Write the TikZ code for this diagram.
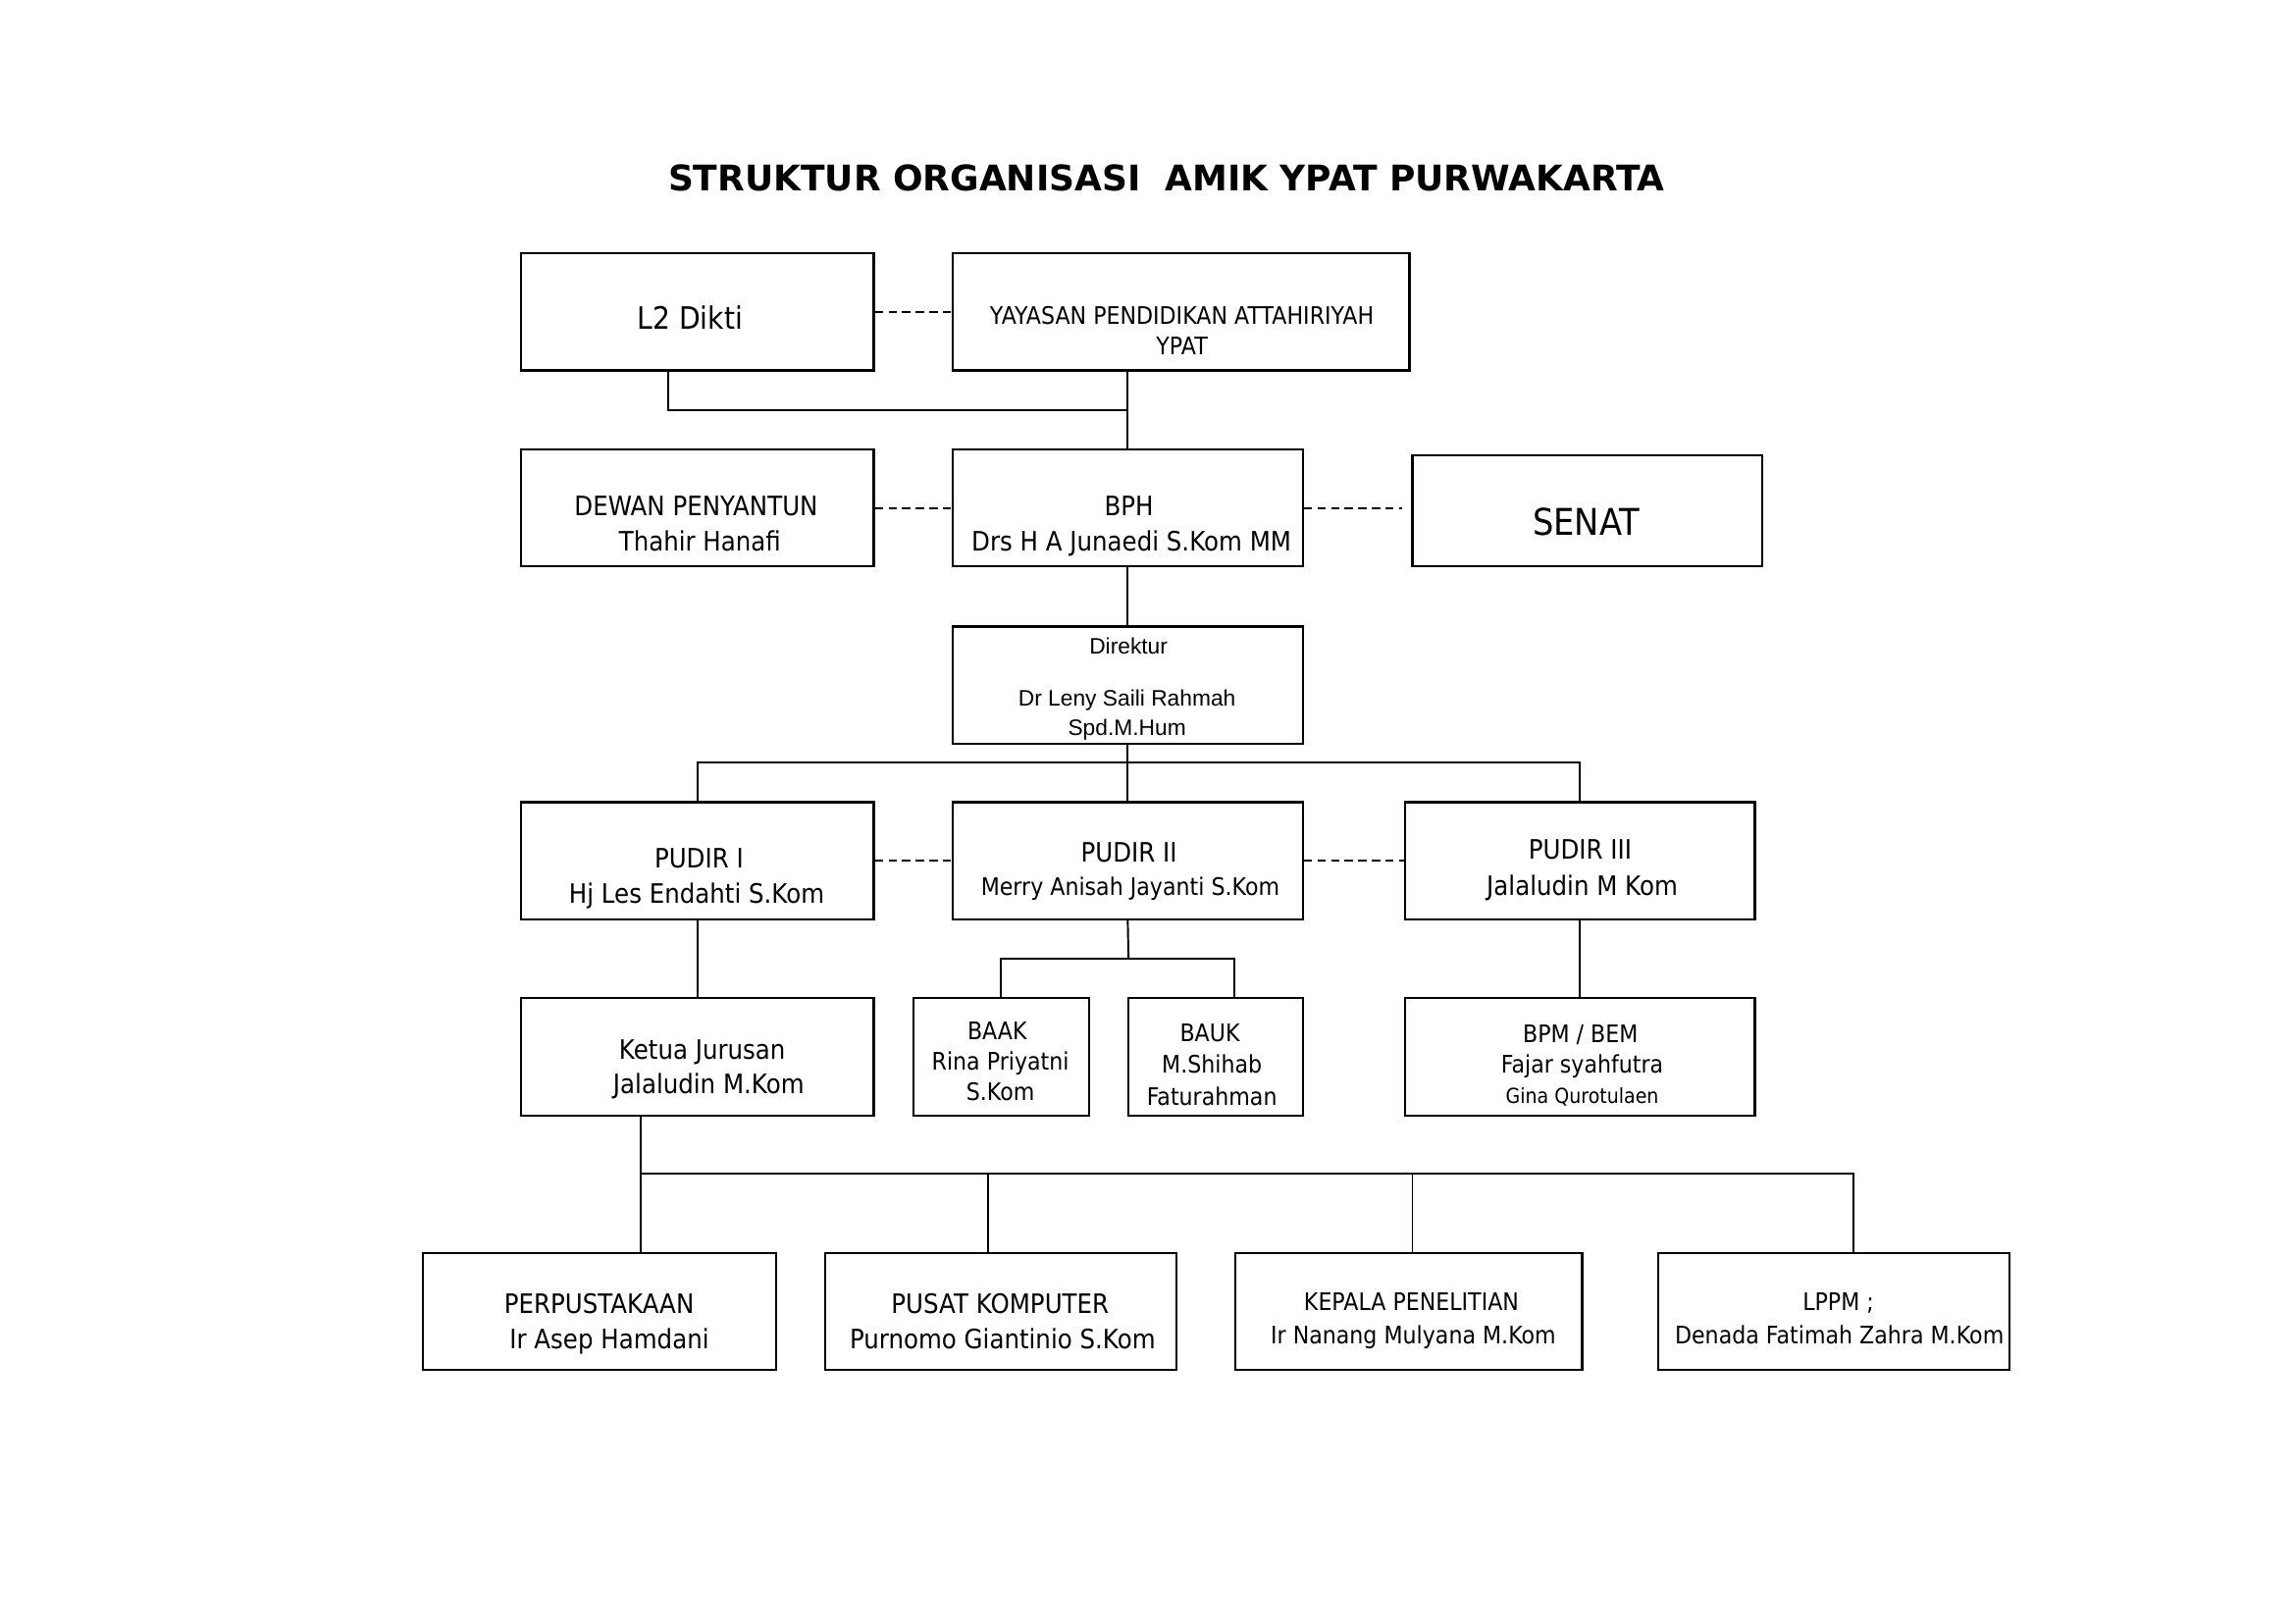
\documentclass[tikz,border=0pt]{standalone}
\usepackage{fontspec}
\setmainfont[FakeStretch=0.9]{DejaVu Sans}
\newfontfamily\titlef{DejaVu Sans}
\newfontfamily\arialf{Liberation Sans}
\usetikzlibrary{fit}
\begin{document}
\begin{tikzpicture}[x=0.537pt,y=-0.537pt,
  box/.style={draw,line width=0.8pt,inner sep=0pt},
  conn/.style={line width=0.7pt},
  dashline/.style={line width=0.7pt,dash pattern=on 3pt off 2pt},
  tx/.style={inner sep=0pt,anchor=mid,yshift=-1.4pt},
  tten/.style={tx,font=\fontsize{9.8}{11}\selectfont},
  tnine/.style={tx,font=\fontsize{8.85}{10}\selectfont},
  teight/.style={tx,font=\fontsize{7.6}{9}\selectfont},
  tarial/.style={tx,font=\arialf\fontsize{8.2}{9.5}\selectfont},
  tbig/.style={tx,font=\fontsize{11.3}{13}\selectfont},
  thuge/.style={tx,font=\fontsize{13.5}{15}\selectfont},
  ttitle/.style={tx,font=\titlef\bfseries\fontsize{12.95}{14}\selectfont}]
\fill[white] (0,0) rectangle (1568,1108.8);
\useasboundingbox (0,0) rectangle (1568,1108.8);

% title
\node[ttitle] (title) at (797,123) {STRUKTUR ORGANISASI\ \ AMIK YPAT PURWAKARTA};

% boxes
\node[box,fit={(356,173)(597,253)}] (l2) {};
\node[box,fit={(651,173)(963,253)}] (ya) {};
\node[box,fit={(356,307)(597,387)}] (dew) {};
\node[box,fit={(651,307)(890,387)}] (bph) {};
\node[box,fit={(965,311)(1204,387)}] (senat) {};
\node[box,fit={(651,428)(890,508)}] (dir) {};
\node[box,fit={(356,548)(597,628)}] (p1) {};
\node[box,fit={(651,548)(890,628)}] (p2) {};
\node[box,fit={(960,548)(1199,628)}] (p3) {};
\node[box,fit={(356,682)(597,762)}] (ket) {};
\node[box,fit={(624,682)(744,762)}] (baak) {};
\node[box,fit={(771,682)(890,762)}] (bauk) {};
\node[box,fit={(960,682)(1199,762)}] (bpm) {};
\node[box,fit={(289,856)(530,936)}] (perp) {};
\node[box,fit={(564,856)(804,936)}] (pusat) {};
\node[box,fit={(844,856)(1081,936)}] (kep) {};
\node[box,fit={(1133,856)(1373,936)}] (lppm) {};

% texts
\node[tbig] (l2t) at (471.5,217) {L2 Dikti};
\node[tnine] (yat1) at (807.5,214) {YAYASAN PENDIDIKAN ATTAHIRIYAH};
\node[tnine] (yat2) at (807.5,234.5) {YPAT};
\node[tten] (dewt1) at (475.6,344.5) {DEWAN PENYANTUN};
\node[tten] (dewt2) at (478.2,368.5) {Thahir Hanafi};
\node[tten] (bpht1) at (771.3,344.5) {BPH};
\node[tten] (bpht2) at (773,369) {Drs H A Junaedi S.Kom MM};
\node[thuge] (senatt) at (1083.7,358) {SENAT};
\node[tarial] (dirt1) at (771,439) {Direktur};
\node[tarial] (dirt2) at (770,474.5) {Dr Leny Saili Rahmah};
\node[tarial] (dirt3) at (770,495) {Spd.M.Hum};
\node[tten] (p1t1) at (477.6,585.5) {PUDIR I};
\node[tten] (p1t2) at (476,609.6) {Hj Les Endahti S.Kom};
\node[tten] (p2t1) at (771.3,581) {PUDIR II};
\node[tnine] (p2t2) at (772.2,603.8) {Merry Anisah Jayanti S.Kom};
\node[tten] (p3t1) at (1079.6,579.4) {PUDIR III};
\node[tten] (p3t2) at (1081,603.8) {Jalaludin M Kom};
\node[tten] (kett1) at (479.8,715.7) {Ketua Jurusan};
\node[tten] (kett2) at (484.2,739.7) {Jalaludin M.Kom};
\node[tnine] (baakt1) at (681.3,702.8) {BAAK};
\node[tnine] (baakt2) at (683.5,723.6) {Rina Priyatni};
\node[tnine] (baakt3) at (683.5,744.1) {S.Kom};
\node[tnine] (baukt1) at (826.6,703.9) {BAUK};
\node[tnine] (baukt2) at (828,725.1) {M.Shihab};
\node[tnine] (baukt3) at (828,747.5) {Faturahman};
\node[tnine] (bpmt1) at (1079.8,704.6) {BPM / BEM};
\node[tnine] (bpmt2) at (1081,725.1) {Fajar syahfutra};
\node[teight] (bpmt3) at (1081,746.3) {Gina Qurotulaen};
\node[tten] (perpt1) at (409.3,889.4) {PERPUSTAKAAN};
\node[tten] (perpt2) at (416.3,913.5) {Ir Asep Hamdani};
\node[tten] (pusatt1) at (683.3,889.4) {PUSAT KOMPUTER};
\node[tten] (pusatt2) at (685,913.5) {Purnomo Giantinio S.Kom};
\node[tnine] (kept1) at (964.3,887.8) {KEPALA PENELITIAN};
\node[tnine] (kept2) at (965.6,910.2) {Ir Nanang Mulyana M.Kom};
\node[tnine] (lppmt1) at (1256,887.8) {LPPM ;};
\node[tnine] (lppmt2) at (1256.7,910.4) {Denada Fatimah Zahra M.Kom};

% dashed links
\draw[dashline] (l2.east) -- (ya.west);
\draw[dashline] (dew.east) -- (bph.west);
\draw[dashline,shorten >=3.5pt] (bph.east) -- (bph.east -| senat.west);
\draw[dashline] (p1.east) -- (p2.west);
\draw[dashline] (p2.east) -- (p3.west);

% solid connectors
\coordinate (j1) at (456.5,280);
\draw[conn] (j1 |- l2.south) -- (j1) -- (j1 -| bph.north);
\draw[conn] (bph.north |- ya.south) -- (bph.north);
\draw[conn] (bph.south) -- (dir.north);
\coordinate (j2) at (771,521);
\draw[conn] (dir.south) -- (p2.north);
\draw[conn] (p1.north) |- (j2) -| (p3.north);
\draw[conn] (p1.south) -- (ket.north);
\coordinate (j3) at (771,655);
\coordinate (j4) at (843.5,655);
\draw[conn] (p2.south) -- (j3);
\draw[conn] (baak.north) |- (j4) -- (j4 |- bauk.north);
\draw[conn] (p3.south) -- (bpm.north);
\coordinate (j5) at (437.5,802);
\coordinate (j6) at (1266.6,802);
\coordinate (j7) at (675,802);
\coordinate (j8) at (965,802);
\draw[conn] (j5 |- ket.south) -- (j5 |- perp.north);
\draw[conn] (j5) -- (j6) -- (j6 |- lppm.north);
\draw[conn] (j7) -- (j7 |- pusat.north);
\draw[conn] (j8) -- (j8 |- kep.north);
\end{tikzpicture}
\end{document}
